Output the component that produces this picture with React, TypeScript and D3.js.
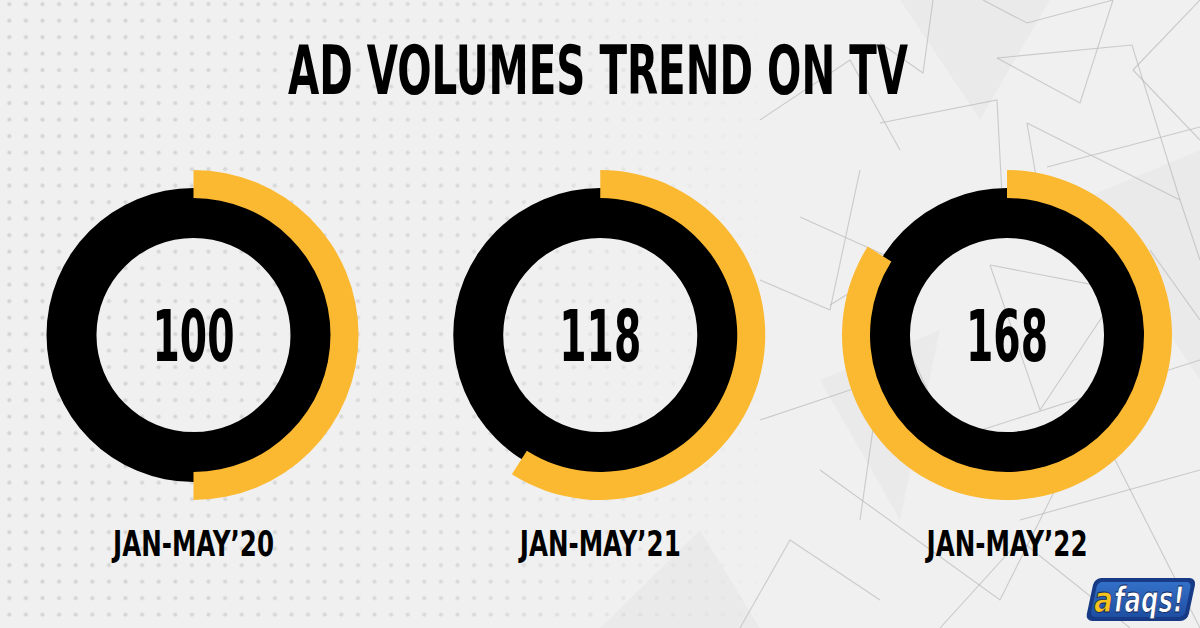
import React, { useLayoutEffect, useRef, useState } from 'react';
import * as d3 from 'd3';

// chart data
const periods = ['JAN-MAY’20', 'JAN-MAY’21', 'JAN-MAY’22'];
const adVolumes = [100, 118, 168];
const volumeLabels = ['100', '118', '168'];
const titleText = 'AD VOLUMES TREND ON TV';

// background decoration (thin triangle lines on the right)
const decoLines: [number, number][][] = [
  [[997, 58], [1132, 45], [1180, 200], [1200, 260]],
  [[997, 58], [1080, 103], [1113, 0]],
  [[983, 0], [1027, 23], [1113, 0]],
  [[1027, 123], [1180, 200]],
  [[1027, 123], [1045, 230]],
  [[880, 123], [997, 100], [1003, 215]],
  [[933, 0], [923, 73], [880, 43]],
  [[1133, 70], [1200, 0]],
  [[1133, 70], [1200, 140]],
  [[1047, 167], [1200, 127]],
  [[800, 217], [900, 262], [830, 305]],
  [[860, 170], [830, 310], [760, 280]],
  [[990, 265], [1120, 290], [1040, 410], [990, 265]],
  [[900, 330], [950, 440], [1200, 360]],
  [[760, 420], [880, 380], [860, 520]],
  [[820, 470], [1000, 600], [1060, 480]],
  [[1020, 520], [1200, 470]],
  [[1100, 430], [1200, 628]],
  [[940, 628], [1020, 540], [1130, 628]],
  [[740, 628], [790, 540], [880, 600]],
  [[1150, 250], [1200, 320]],
  [[760, 120], [850, 60], [900, 150]],
];

const decoShades: [number, number][][] = [
  [[600, 628], [700, 530], [760, 628]],
  [[900, 0], [1050, 0], [980, 120]],
  [[1080, 200], [1200, 150], [1200, 380]],
  [[820, 380], [940, 330], [900, 520]],
];

const W = 1200;
const H = 628;
const fontStack = "'DejaVu Sans Condensed', 'DejaVu Sans', sans-serif";

// text squeezed horizontally to a given width (condensed display look)
const FitText: React.FC<{
  x: number; y: number; width: number; size: number; anchor?: string;
  fill?: string; italic?: boolean; stroke?: string; children: string;
}> = ({ x, y, width, size, anchor = 'middle', fill = '#000', italic, stroke, children }) => {
  const ref = useRef<SVGTextElement>(null);
  const [sx, setSx] = useState(0.6);
  useLayoutEffect(() => {
    if (ref.current) {
      const len = ref.current.getComputedTextLength();
      if (len > 0) setSx(width / len);
    }
  }, [width, size, children]);
  return (
    <text ref={ref} transform={`translate(${x},${y}) scale(${sx},1)`} textAnchor={anchor}
      fontFamily={fontStack} fontWeight={700} fontStyle={italic ? 'italic' : 'normal'}
      fontSize={size} fill={fill} stroke={stroke} strokeWidth={stroke ? 0.8 : 0}>
      {children}
    </text>
  );
};

const App: React.FC = () => {
  const x = d3.scalePoint<string>().domain(periods).range([193.5, 1007]);
  const angle = d3.scaleLinear().domain([0, 200]).range([0, 2 * Math.PI]);
  const cy = 335;

  const ring = d3.arc<any>().innerRadius(97).outerRadius(147).startAngle(0).endAngle(2 * Math.PI);
  const band = d3.arc<any>().innerRadius(137).outerRadius(165).startAngle(0);
  const line = d3.line();

  return (
    <svg width={W} height={H} viewBox={`0 0 ${W} ${H}`}
      style={{ position: 'fixed', left: 0, top: 0, display: 'block' }}>
      <defs>
        <pattern id="dots" x="1" y="-4" width="16.6" height="16.5" patternUnits="userSpaceOnUse">
          <circle cx="8.3" cy="8.2" r="2.1" fill="#d4d4d4" />
        </pattern>
        <linearGradient id="fade" x1="0" x2="1" y1="0" y2="0">
          <stop offset="0" stopColor="#fff" stopOpacity="1" />
          <stop offset="0.4" stopColor="#fff" stopOpacity="0.8" />
          <stop offset="0.65" stopColor="#fff" stopOpacity="0" />
        </linearGradient>
        <mask id="dotMask">
          <rect width={W} height={H} fill="url(#fade)" />
        </mask>
        <linearGradient id="logoFill" x1="0" x2="0" y1="0" y2="1">
          <stop offset="0" stopColor="#3470c8" />
          <stop offset="1" stopColor="#1d4fa3" />
        </linearGradient>
      </defs>

      {/* background */}
      <rect width={W} height={H} fill="#f0f0f0" />
      <rect width={W} height={H} fill="url(#dots)" mask="url(#dotMask)" />
      {decoShades.map((p, i) => (
        <path key={`s${i}`} d={line(p) + 'Z'} fill="#000" opacity={0.025} />
      ))}
      {decoLines.map((p, i) => (
        <path key={`l${i}`} d={line(p) || ''} fill="none" stroke="#b9b9b9" strokeWidth={1.1} opacity={0.7} />
      ))}

      {/* title */}
      <FitText x={598} y={94} width={620} size={68}>{titleText}</FitText>

      {/* donuts */}
      {periods.map((p, i) => {
        const cx = x(p) as number;
        return (
          <g key={p} transform={`translate(${cx},${cy})`}>
            <path d={ring({}) || ''} fill="#000" />
            <path d={band({ endAngle: angle(adVolumes[i]) } as any) || ''} fill="#fbb932" />
            <FitText x={0} y={26} width={82} size={72}>{volumeLabels[i]}</FitText>
            <FitText x={0} y={221} width={161} size={36}>{p}</FitText>
          </g>
        );
      })}

      {/* logo */}
      <g transform="translate(1140,599)">
        <g transform="skewX(-12)">
          <rect x={-50} y={-21} width={102} height={43} rx={7} fill="#173a86" />
          <rect x={-46} y={-17} width={94} height={35} rx={5} fill="url(#logoFill)" />
        </g>
        <FitText x={-46} y={13} width={19} size={36} anchor="start" italic
          fill="#f7c21c" stroke="#0d2660">a</FitText>
        <FitText x={-26} y={13} width={70} size={36} anchor="start" italic
          fill="#fff" stroke="#0d2660">faqs!</FitText>
      </g>
    </svg>
  );
};

export default App;
